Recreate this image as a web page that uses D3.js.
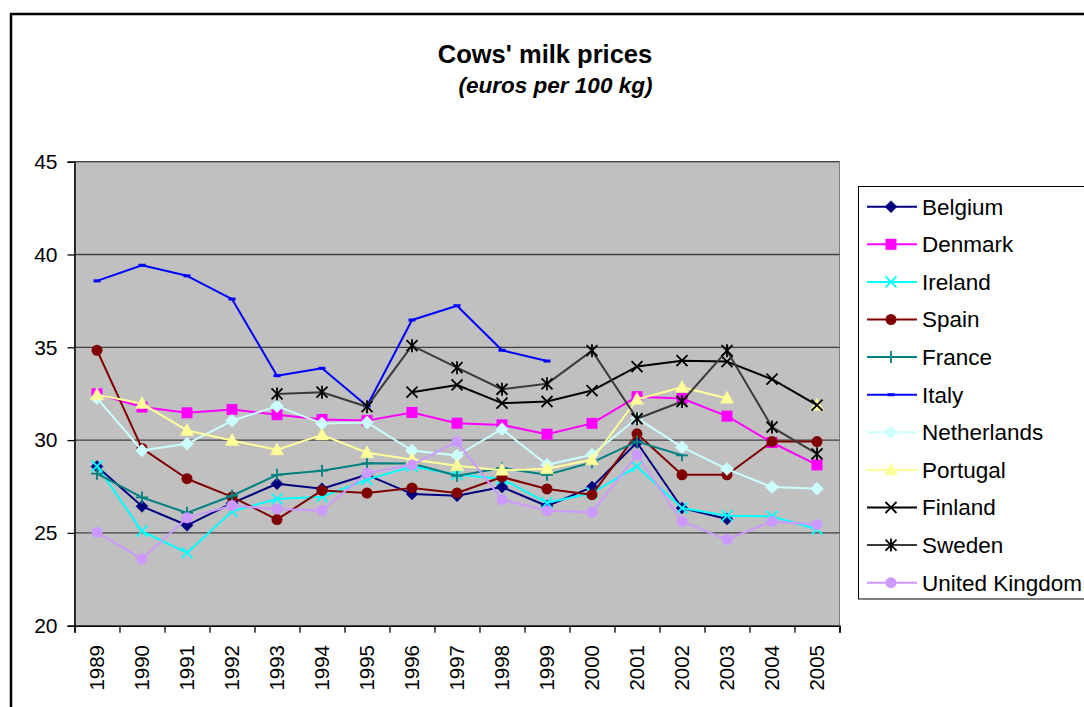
<!DOCTYPE html>
<html>
<head>
<meta charset="utf-8">
<script src="https://cdn.jsdelivr.net/npm/d3@7"></script>
<style>
  html, body { margin: 0; padding: 0; background: #fff; }
  svg { display: block; font-family: "Liberation Sans", Arial, sans-serif; }
</style>
</head>
<body>
<svg id="chart" width="1084" height="707"></svg>
<script>
// Cows' milk prices, euros per 100 kg, 1989-2005
const years = ["1989","1990","1991","1992","1993","1994","1995","1996","1997","1998","1999","2000","2001","2002","2003","2004","2005"];
const yTicks = [20, 25, 30, 35, 40, 45];

const belgium     = [28.58, 26.43, 25.41, 26.60, 27.65, 27.38, 28.13, 27.10, 27.00, 27.47, 26.45, 27.47, 29.87, 26.34, 25.75, null, null];
const denmark     = [32.49, 31.78, 31.47, 31.65, 31.37, 31.11, 31.05, 31.49, 30.91, 30.82, 30.32, 30.90, 32.34, 32.24, 31.29, 29.87, 28.66];
const ireland     = [28.60, 25.09, 23.92, 26.16, 26.83, 26.95, 27.87, 28.58, 28.15, 27.90, 26.62, 27.15, 28.58, 26.34, 25.93, 25.89, 25.20];
const spain       = [34.84, 29.55, 27.92, 26.94, 25.72, 27.29, 27.15, 27.42, 27.15, 28.01, 27.37, 27.06, 30.34, 28.13, 28.13, 29.92, 29.92];
const france      = [28.19, 26.91, 26.08, 27.00, 28.13, 28.35, 28.75, 28.74, 28.08, 28.49, 28.13, 28.80, 29.92, 29.18, null, null, null];
const italy       = [38.58, 39.42, 38.85, 37.60, 33.47, 33.87, 31.84, 36.47, 37.24, 34.84, 34.26, null, null, null, null, null, null];
const netherlands = [32.26, 29.44, 29.80, 31.04, 31.83, 30.90, 30.95, 29.44, 29.17, 30.59, 28.67, 29.21, 31.18, 29.62, 28.44, 27.47, 27.38];
const portugal    = [32.44, 31.97, 30.52, 29.98, 29.48, 30.28, 29.32, 28.96, 28.62, 28.37, 28.46, 28.94, 32.20, 32.85, 32.26, null, 31.88];
const finland     = [null, null, null, null, null, null, null, 32.58, 32.97, 31.99, 32.08, 32.67, 33.96, 34.28, 34.23, 33.28, 31.88];
const sweden      = [null, null, null, null, 32.49, 32.58, 31.80, 35.09, 33.90, 32.74, 33.03, 34.82, 31.15, 32.08, 34.82, 30.70, 29.26];
const unitedKingdom = [25.03, 23.60, 25.81, 26.47, 26.29, 26.21, 28.22, 28.67, 29.92, 26.79, 26.20, 26.11, 29.21, 25.62, 24.64, 25.62, 25.45];

const countries = ["Belgium","Denmark","Ireland","Spain","France","Italy","Netherlands","Portugal","Finland","Sweden","United Kingdom"];
const valueLists = [belgium, denmark, ireland, spain, france, italy, netherlands, portugal, finland, sweden, unitedKingdom];

// Line colour, marker colour and marker shape per series
const styles = {
  "Belgium":        { line: "#000080", mark: "#000080", shape: "diamond" },
  "Denmark":        { line: "#FF00FF", mark: "#FF00FF", shape: "square" },
  "Ireland":        { line: "#00FFFF", mark: "#00FFFF", shape: "x" },
  "Spain":          { line: "#800000", mark: "#800000", shape: "circle" },
  "France":         { line: "#008080", mark: "#008080", shape: "plus" },
  "Italy":          { line: "#0000FF", mark: "#0000FF", shape: "dash" },
  "Netherlands":    { line: "#CCFFFF", mark: "#CCFFFF", shape: "diamondL" },
  "Portugal":       { line: "#FFFF99", mark: "#FFFF99", shape: "triangle" },
  "Finland":        { line: "#000000", mark: "#000000", shape: "x" },
  "Sweden":         { line: "#3a3a3a", mark: "#000000", shape: "star" },
  "United Kingdom": { line: "#CC99FF", mark: "#CC99FF", shape: "circle" }
};

const series = countries.map((name, i) => ({ name, values: valueLists[i], style: styles[name] }));

const svg = d3.select("#chart");

// Outer chart frame
svg.append("rect")
  .attr("x", 11).attr("y", 14).attr("width", 1200).attr("height", 800)
  .attr("fill", "#fff").attr("stroke", "#000").attr("stroke-width", 2.5);

// Titles
svg.append("text").attr("x", 545).attr("y", 63).attr("text-anchor", "middle")
  .attr("font-size", 25.5).attr("font-weight", "bold").attr("fill", "#000")
  .text("Cows' milk prices");
svg.append("text").attr("x", 555.5).attr("y", 93).attr("text-anchor", "middle")
  .attr("font-size", 22.5).attr("font-weight", "bold").attr("font-style", "italic").attr("fill", "#000")
  .text("(euros per 100 kg)");

// Plot area geometry
const plot = { left: 74.5, right: 839.5, top: 161.7, bottom: 625.7 };

const x = d3.scaleBand().domain(years).range([plot.left, plot.right]).padding(0);
const xEdge = d3.scaleLinear().domain([0, years.length]).range([plot.left, plot.right]);
const y = d3.scaleLinear().domain([20, 45]).range([plot.bottom, plot.top]);
const cx = yr => x(yr) + x.bandwidth() / 2;

// Plot background
svg.append("rect")
  .attr("x", plot.left).attr("y", plot.top)
  .attr("width", plot.right - plot.left).attr("height", plot.bottom - plot.top)
  .attr("fill", "#C0C0C0").attr("stroke", "#808080").attr("stroke-width", 1);

// Horizontal gridlines
svg.append("g").selectAll("line").data(yTicks.filter(t => t > 20)).join("line")
  .attr("x1", plot.left).attr("x2", plot.right)
  .attr("y1", d => y(d)).attr("y2", d => y(d))
  .attr("stroke", "#404040").attr("stroke-width", 1.3);

// Y axis
const yAxis = svg.append("g").attr("transform", `translate(${plot.left},0)`)
  .call(d3.axisLeft(y).tickValues(yTicks).tickSize(7).tickPadding(10).tickFormat(d3.format("d")));
yAxis.select(".domain").attr("stroke", "#000").attr("stroke-width", 1.5);
yAxis.selectAll(".tick line").attr("stroke", "#000").attr("stroke-width", 1.3);
yAxis.selectAll(".tick text").attr("font-size", 21).attr("fill", "#000")
  .attr("font-family", "'Liberation Sans', Arial, sans-serif");

// X axis: ticks on category boundaries
const xAxis = svg.append("g").attr("transform", `translate(0,${plot.bottom})`)
  .call(d3.axisBottom(xEdge).tickValues(d3.range(years.length + 1)).tickSize(7).tickFormat(""));
xAxis.select(".domain").attr("stroke", "#000").attr("stroke-width", 1.5);
xAxis.selectAll(".tick line").attr("stroke", "#000").attr("stroke-width", 1.3);

// Year labels, rotated
svg.append("g").selectAll("text").data(years).join("text")
  .attr("transform", d => `translate(${cx(d)},645) rotate(-90)`)
  .attr("text-anchor", "end").attr("dy", "0.36em")
  .attr("font-size", 20.5).attr("fill", "#000")
  .text(d => d);

// Marker drawing
function drawMarker(g, shape, color) {
  switch (shape) {
    case "diamond":
      g.append("path").attr("d", "M0,-6L6,0L0,6L-6,0Z").attr("fill", color).attr("stroke", color).attr("stroke-width", 0.5);
      break;
    case "diamondL":
      g.append("path").attr("d", "M0,-6.5L6.5,0L0,6.5L-6.5,0Z").attr("fill", color).attr("stroke", color).attr("stroke-width", 0.5);
      break;
    case "square":
      g.append("rect").attr("x", -5.5).attr("y", -5.5).attr("width", 11).attr("height", 11).attr("fill", color);
      break;
    case "circle":
      g.append("circle").attr("r", 5.5).attr("fill", color);
      break;
    case "triangle":
      g.append("path").attr("d", "M0,-7L6.5,5L-6.5,5Z").attr("fill", color).attr("stroke", color).attr("stroke-width", 0.5);
      break;
    case "x":
      g.append("path").attr("d", "M-5.5,-5.5L5.5,5.5M-5.5,5.5L5.5,-5.5").attr("fill", "none").attr("stroke", color).attr("stroke-width", 1.8);
      break;
    case "plus":
      g.append("path").attr("d", "M-6,0H6M0,-6V6").attr("fill", "none").attr("stroke", color).attr("stroke-width", 1.8);
      break;
    case "star":
      g.append("path").attr("d", "M-5.5,-5.5L5.5,5.5M-5.5,5.5L5.5,-5.5M0,-6.5V6.5").attr("fill", "none").attr("stroke", color).attr("stroke-width", 1.8);
      break;
    case "dash":
      g.append("rect").attr("x", -3.5).attr("y", -1.5).attr("width", 7).attr("height", 3).attr("fill", color);
      break;
  }
}

const line = d3.line()
  .defined(d => d.v != null)
  .x(d => cx(d.year))
  .y(d => y(d.v));

// Series: line first, then its markers
const seriesG = svg.append("g");
series.forEach(s => {
  const pts = years.map((yr, i) => ({ year: yr, v: s.values[i] }));
  const g = seriesG.append("g").attr("class", "series");
  g.append("path").datum(pts)
    .attr("d", line)
    .attr("fill", "none")
    .attr("stroke", s.style.line)
    .attr("stroke-width", 2)
    .attr("stroke-linejoin", "round");
  pts.filter(p => p.v != null).forEach(p => {
    const m = g.append("g").attr("transform", `translate(${cx(p.year)},${y(p.v)})`);
    drawMarker(m, s.style.shape, s.style.mark);
  });
});

// Legend
const legend = svg.append("g");
legend.append("rect")
  .attr("x", 858.5).attr("y", 186.5).attr("width", 260).attr("height", 412.5)
  .attr("fill", "#fff").attr("stroke", "#000").attr("stroke-width", 1);
series.forEach((s, i) => {
  const ly = 206.7 + i * 37.6;
  const row = legend.append("g");
  row.append("line").attr("x1", 867).attr("x2", 917).attr("y1", ly).attr("y2", ly)
    .attr("stroke", s.style.line).attr("stroke-width", 2);
  const m = row.append("g").attr("transform", `translate(891,${ly})`);
  drawMarker(m, s.style.shape, s.style.mark);
  row.append("text").attr("x", 922).attr("y", ly).attr("dy", "0.35em")
    .attr("font-size", 22.5).attr("fill", "#000").text(s.name);
});
</script>
</body>
</html>
